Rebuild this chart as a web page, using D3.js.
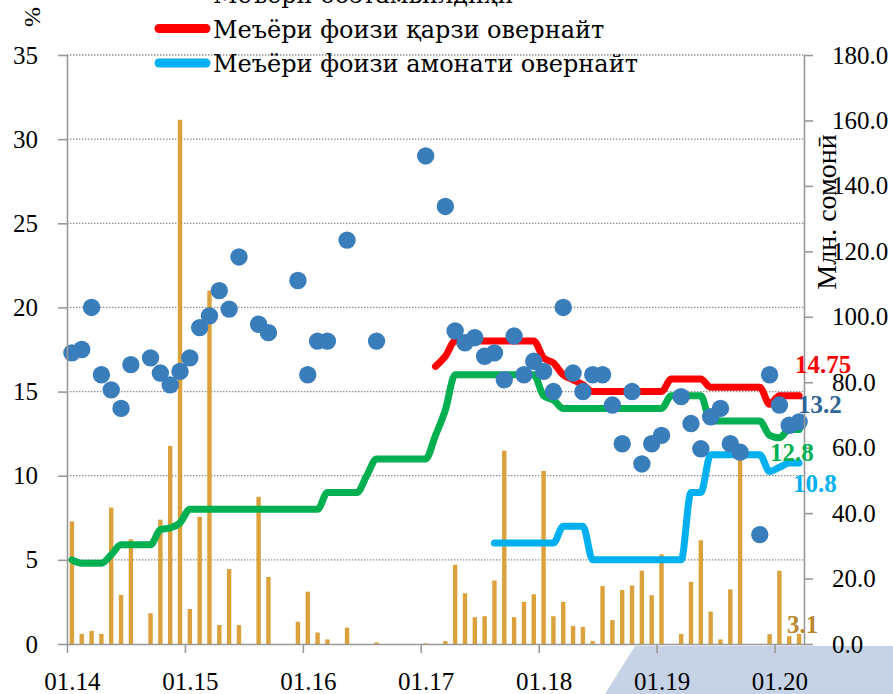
<!DOCTYPE html>
<html>
<head>
<meta charset="utf-8">
<script src="https://cdn.jsdelivr.net/npm/d3@7/dist/d3.min.js"></script>
<style>
  body { margin: 0; background: #fff; }
  text { font-family: "Liberation Serif", "Times New Roman", serif; }
  .legend text { font-family: "DejaVu Serif", serif; }
</style>
</head>
<body>
<svg width="893" height="694"></svg>
<script>
// monthly data, Jan 2014 .. Mar 2020 (75 months)
const tickLabels = ['01.14', '01.15', '01.16', '01.17', '01.18', '01.19', '01.20'];

// interbank volume, mln somoni (right axis)
const volume = [37.5, 3.1, 4.0, 3.1, 41.7, 15.0, 32.0, 0, 9.4, 38.0, 60.5, 160.2,
  10.7, 38.9, 108.0, 5.8, 22.9, 5.8, 0, 45.0, 20.5, 0, 0, 6.8,
  16.0, 3.5, 1.4, 0, 5.0, 0, 0, 0.5, 0, 0, 0, 0,
  0.2, 0, 0.9, 24.2, 15.5, 8.2, 8.5, 19.4, 59.1, 8.2, 12.9, 15.2,
  52.9, 8.5, 12.9, 5.5, 5.2, 0.9, 17.7, 7.3, 16.5, 17.9, 22.4, 14.9,
  27.4, 0, 3.1, 19.0, 31.7, 9.9, 1.4, 16.7, 57.3, 0, 0, 3.0,
  22.4, 2.4, 3.1];

// interbank rate, % (dots)
const rate = [17.3, 17.5, 20.0, 16.0, 15.1, 14.0, 16.6, null, 17.0, 16.1, 15.4, 16.2,
  17.0, 18.8, 19.5, 21.0, 19.9, 23.0, null, 19.0, 18.5, null, null, 21.6,
  16.0, 18.0, 18.0, null, 24.0, null, null, 18.0, null, null, null, null,
  29.0, null, 26.0, 18.6, 17.9, 18.2, 17.1, 17.3, 15.7, 18.3, 16.0, 16.8,
  16.2, 15.0, 20.0, 16.1, 15.0, 16.0, 16.0, 14.2, 11.9, 15.0, 10.7, 11.9,
  12.4, null, 14.7, 13.1, 11.6, 13.5, 14.0, 11.9, 11.4, null, 6.5, 16.0,
  14.2, 13.0, 13.2];

// refinancing rate
const refin = [5.0, 4.8, 4.8, 4.8, 5.3, 5.9, 5.9, 5.9, 5.9, 6.8, 6.9, 7.2,
  8.0, 8.0, 8.0, 8.0, 8.0, 8.0, 8.0, 8.0, 8.0, 8.0, 8.0, 8.0,
  8.0, 8.0, 9.0, 9.0, 9.0, 9.0, 10.0, 11.0, 11.0, 11.0, 11.0, 11.0,
  11.0, 12.4, 13.9, 16.0, 16.0, 16.0, 16.0, 16.0, 16.0, 16.0, 16.0, 16.0,
  14.75, 14.5, 14.0, 14.0, 14.0, 14.0, 14.0, 14.0, 14.0, 14.0, 14.0, 14.0,
  14.0, 14.75, 14.75, 14.75, 14.75, 13.25, 13.25, 13.25, 13.25, 13.25, 13.25, 12.4,
  12.25, 12.75, 12.75];

// overnight credit rate
const credit = [null, null, null, null, null, null, null, null, null, null, null, null,
  null, null, null, null, null, null, null, null, null, null, null, null,
  null, null, null, null, null, null, null, null, null, null, null, null,
  null, 16.5, 17.1, 18.0, 18.0, 18.0, 18.0, 18.0, 18.0, 18.0, 18.0, 18.0,
  17.0, 16.7, 16.0, 15.7, 15.4, 15.0, 15.0, 15.0, 15.0, 15.0, 15.0, 15.0,
  15.0, 15.75, 15.75, 15.75, 15.75, 15.25, 15.25, 15.25, 15.25, 15.25, 15.25, 14.25,
  14.75, 14.75, 14.75];

// overnight deposit rate
const deposit = [null, null, null, null, null, null, null, null, null, null, null, null,
  null, null, null, null, null, null, null, null, null, null, null, null,
  null, null, null, null, null, null, null, null, null, null, null, null,
  null, null, null, null, null, null, null, 6.0, 6.0, 6.0, 6.0, 6.0,
  6.0, 6.0, 7.0, 7.0, 7.0, 5.0, 5.0, 5.0, 5.0, 5.0, 5.0, 5.0,
  5.0, 5.0, 5.0, 9.0, 9.0, 11.25, 11.25, 11.25, 11.25, 11.25, 11.25, 10.25,
  10.5, 10.75, 10.75];

const legendNames = ['Меъёри бозтамвилдиҳӣ', 'Меъёри фоизи қарзи овернайт', 'Меъёри фоизи амонати овернайт'];

const svg = d3.select('svg');
const plotLeft = 67, plotRight = 804, plotTop = 55, plotBottom = 644;
const n = volume.length;

const x = d3.scaleBand().domain(d3.range(n)).range([plotLeft, plotRight]);
const xm = d3.scaleLinear().domain([0, n]).range([plotLeft, plotRight]); // month boundaries for ticks
const cx = i => x(i) + x.bandwidth() / 2;
const yL = d3.scaleLinear().domain([0, 35]).range([plotBottom, plotTop]);
const yR = d3.scaleLinear().domain([0, 180]).range([plotBottom, plotTop]);

// shaded corner at bottom right
svg.append('path')
  .attr('d', 'M605,694 L635,646 L893,646 L893,694 Z')
  .attr('fill', '#c6d3e6');

// dotted grid
svg.append('g').selectAll('line')
  .data(d3.range(5, 36, 5))
  .join('line')
    .attr('x1', plotLeft).attr('x2', plotRight)
    .attr('y1', d => yL(d)).attr('y2', d => yL(d))
    .attr('stroke', '#8a8a8a')
    .attr('stroke-width', 1.3)
    .attr('stroke-dasharray', '1.4,1.6');

// bars
svg.append('g').selectAll('rect')
  .data(volume)
  .join('rect')
    .attr('x', (d, i) => cx(i) - 2.2)
    .attr('width', 4.4)
    .attr('y', d => yR(d))
    .attr('height', d => plotBottom - yR(d))
    .attr('fill', '#dba13c');

// lines
const line = d3.line()
  .defined(d => d != null)
  .x((d, i) => cx(i))
  .y(d => yL(d))
  .curve(d3.curveMonotoneX);

const series = [
  {data: refin, color: '#00b050'},
  {data: deposit, color: '#00b0f0'},
  {data: credit, color: '#ff0000'}
];
series.forEach(s => {
  svg.append('path')
    .attr('d', line(s.data))
    .attr('fill', 'none')
    .attr('stroke', s.color)
    .attr('stroke-width', 7)
    .attr('stroke-linejoin', 'round')
    .attr('stroke-linecap', 'round');
});

// dots
svg.append('g').selectAll('circle')
  .data(rate.map((v, i) => ({v, i})).filter(d => d.v != null))
  .join('circle')
    .attr('cx', d => cx(d.i))
    .attr('cy', d => yL(d.v))
    .attr('r', 8.7)
    .attr('fill', '#3a7dbb');

// axes
const styleAxis = g => {
  g.attr('font-family', null);
  g.select('.domain').attr('stroke', '#999').attr('stroke-width', 1.6);
  g.selectAll('.tick line').attr('stroke', '#999').attr('stroke-width', 1.6);
  g.selectAll('.tick text').attr('fill', '#000').style('font-size', '25px');
};

svg.append('g')
  .attr('transform', `translate(${plotLeft},0)`)
  .call(d3.axisLeft(yL).tickValues(d3.range(0, 36, 5)).tickSize(9).tickSizeOuter(0).tickPadding(20))
  .call(styleAxis);

svg.append('g')
  .attr('transform', `translate(${plotRight},0)`)
  .call(d3.axisRight(yR).tickValues(d3.range(0, 181, 20)).tickFormat(d3.format('.1f'))
    .tickSize(9).tickSizeOuter(0).tickPadding(19))
  .call(styleAxis);

const xAxis = svg.append('g')
  .attr('transform', `translate(0,${plotBottom})`)
  .call(d3.axisBottom(xm).tickValues(d3.range(0, n, 12)).tickFormat((d, i) => tickLabels[i])
    .tickSize(9).tickSizeOuter(0).tickPadding(19))
  .call(styleAxis);
xAxis.selectAll('.tick text').attr('x', x.bandwidth() / 2);

// axis titles
svg.append('text')
  .attr('transform', 'translate(40,17) rotate(-90)')
  .attr('text-anchor', 'middle')
  .style('font-size', '24px')
  .text('%');

svg.append('text')
  .attr('transform', 'translate(836,212) rotate(-90)')
  .attr('text-anchor', 'middle')
  .style('font-size', '28px')
  .text('Млн. сомонӣ');

// legend
const legendColors = ['#00b050', '#ff0000', '#00b0f0'];
const legend = svg.append('g').attr('class', 'legend');
legendNames.forEach((name, k) => {
  const yy = -6 + k * 34.5;
  legend.append('line')
    .attr('x1', 159).attr('x2', 206)
    .attr('y1', yy).attr('y2', yy)
    .attr('stroke', legendColors[k])
    .attr('stroke-width', 9)
    .attr('stroke-linecap', 'round');
  legend.append('text')
    .attr('x', 213).attr('y', yy + 9)
    .style('font-size', '24px')
    .text(name);
});

// end labels
const last = n - 1;
const endLabels = [
  {text: '14.75', color: '#ff0000', x: cx(last) - 4, y: yL(credit[last]) - 23},
  {text: '13.2', color: '#2e6496', x: cx(last) - 1, y: yL(rate[last]) - 9},
  {text: '12.8', color: '#00b050', x: cx(last) - 29, y: yL(refin[last]) + 32},
  {text: '10.8', color: '#00b0f0', x: cx(last) - 6, y: yL(deposit[last]) + 29},
  {text: '3.1', color: '#b8862b', x: cx(last) - 12, y: yR(volume[last]) - 1}
];
svg.append('g').selectAll('text')
  .data(endLabels)
  .join('text')
    .attr('x', d => d.x)
    .attr('y', d => d.y)
    .attr('fill', d => d.color)
    .style('font-size', '25px')
    .style('font-weight', 'bold')
    .text(d => d.text);
</script>
</body>
</html>
